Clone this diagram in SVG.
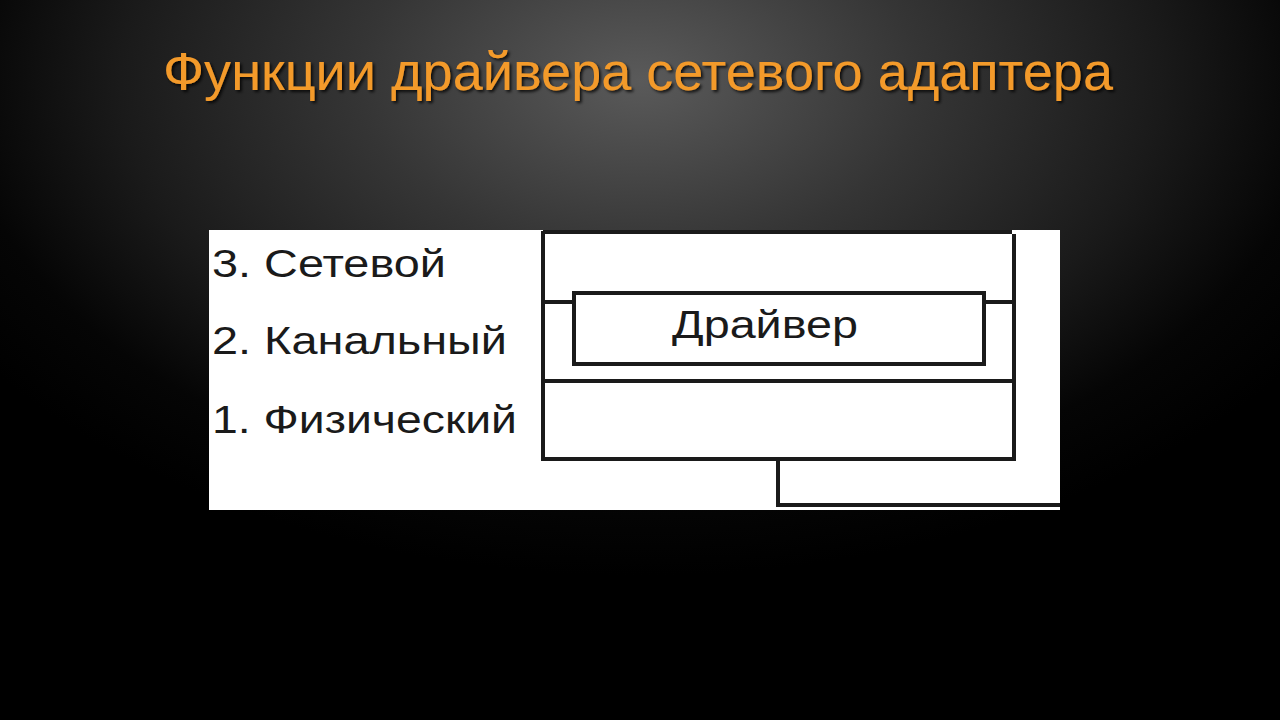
<svg xmlns="http://www.w3.org/2000/svg" width="1280" height="720" viewBox="0 0 1280 720">
<defs>
<radialGradient id="bg" cx="640" cy="80" r="800" gradientUnits="userSpaceOnUse" gradientTransform="translate(640,80) scale(1,0.62) translate(-640,-80)">
<stop offset="0" stop-color="#5a5a5a"/>
<stop offset="0.35" stop-color="#353535"/>
<stop offset="0.65" stop-color="#1a1a1a"/>
<stop offset="0.85" stop-color="#050505"/>
<stop offset="1" stop-color="#000000"/>
</radialGradient>
<filter id="sh" x="-5%" y="-20%" width="110%" height="150%">
<feDropShadow dx="2" dy="2" stdDeviation="1.5" flood-color="#000" flood-opacity="0.8"/>
</filter>
</defs>
<style>
.lbl{font-family:"Liberation Sans",Arial,sans-serif;font-size:38px;fill:#1a1a1a}
.ln{stroke:#1a1a1a;stroke-width:4;fill:none}
</style>
<rect width="1280" height="720" fill="#000"/>
<rect width="1280" height="720" fill="url(#bg)"/>
<text id="title" x="163" y="90" font-family="Liberation Sans, Arial, sans-serif" font-size="54" fill="#f39a2c" filter="url(#sh)" textLength="950" lengthAdjust="spacingAndGlyphs">Функции драйвера сетевого адаптера</text>
<rect id="panel" x="209" y="230" width="851" height="280" fill="#ffffff"/>
<g id="labels">
<text class="lbl" x="212" y="277" textLength="234" lengthAdjust="spacingAndGlyphs">3. Сетевой</text>
<text class="lbl" x="212" y="354" textLength="295" lengthAdjust="spacingAndGlyphs">2. Канальный</text>
<text class="lbl" x="212" y="433" textLength="305" lengthAdjust="spacingAndGlyphs">1. Физический</text>
</g>
<g id="frame">
<path class="ln" d="M543,232 H1012" stroke-width="2.5"/>
<path class="ln" d="M543,231 V459 H1014 V234 M543,381 H1014"/>
</g>
<g id="driver">
<rect class="ln" x="574" y="293" width="410" height="71" stroke-width="3"/>
<text class="lbl" x="672" y="338" textLength="186" lengthAdjust="spacingAndGlyphs">Драйвер</text>
</g>
<g id="connectors">
<path class="ln" d="M543,302 H574 M984,302 H1014"/>
<path class="ln" d="M778,459 V505 H1060" stroke-width="5"/>
</g>
</svg>
